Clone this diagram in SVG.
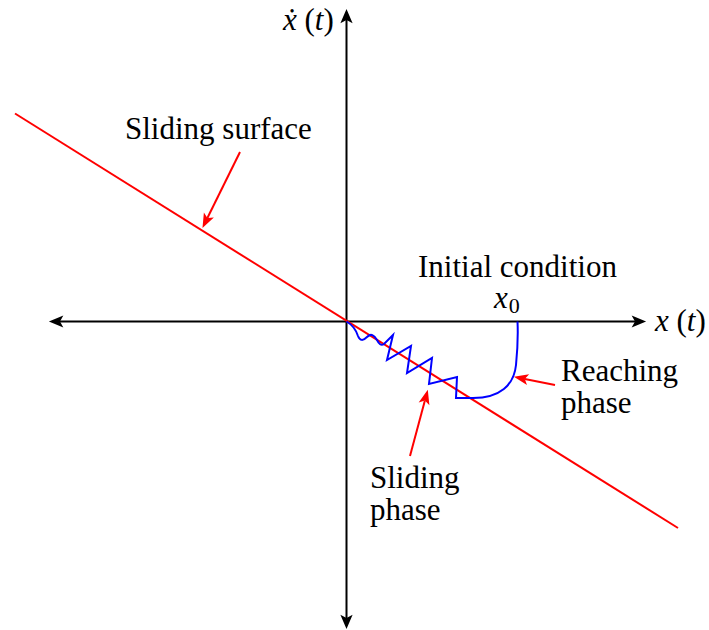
<svg xmlns="http://www.w3.org/2000/svg" width="709" height="630" viewBox="0 0 709 630">
<style>
.t{font-family:"Liberation Serif","Times New Roman",serif;font-size:31px;fill:#000}
.i{font-style:italic}
.ax{stroke:#000;stroke-width:2;fill:none}
.red{stroke:#f00;stroke-width:2;fill:none}
.blue{stroke:#00f;stroke-width:2;fill:none;stroke-linejoin:miter}
</style>
<defs>
<marker id="ak" markerUnits="userSpaceOnUse" markerWidth="20" markerHeight="20" viewBox="-5 -8 18 16" refX="0" refY="0" orient="auto-start-reverse">
<path d="M0,0 L-3,-5.5 L10,0 L-3,5.5 Z" fill="#000"/>
</marker>
<marker id="ar" markerUnits="userSpaceOnUse" markerWidth="20" markerHeight="20" viewBox="-5 -8 18 16" refX="0" refY="0" orient="auto">
<path d="M0,0 L-3,-5 L10,0 L-3,5 Z" fill="#f00"/>
</marker>
</defs>
<g id="axes">
<line class="ax" x1="346.5" y1="618" x2="346.5" y2="20" marker-start="url(#ak)" marker-end="url(#ak)"/>
<line class="ax" x1="60" y1="321.5" x2="635" y2="321.5" marker-start="url(#ak)" marker-end="url(#ak)"/>
</g>
<g id="sliding-surface">
<line class="red" x1="15" y1="113.5" x2="678" y2="528"/>
</g>
<g id="trajectory">
<path class="blue" d="M346.5,321.5 C351,324 356,330 358,336 C360,341 363,341 367,337 C371,333 374,335 377,340 C379,344 381,346 384,344 L393,335 L387,360 L411,346 L407,373 L432,358 L429,384 L457,377 L456,398 L473,398 C500,398 514,385 516,365 C518,345 518,332 517.5,321.5"/>
</g>
<g id="connectors">
<line class="red" x1="240" y1="152" x2="207.4" y2="218" marker-end="url(#ar)"/>
<line class="red" x1="555" y1="385" x2="524.8" y2="379" marker-end="url(#ar)"/>
<line class="red" x1="410" y1="456" x2="424.9" y2="400.6" marker-end="url(#ar)"/>
</g>
<g id="labels">
<text class="t" x="418" y="277">Initial condition</text>
<text class="t" x="125" y="139">Sliding surface</text>
<text class="t" x="494" y="308"><tspan class="i">x</tspan><tspan font-size="22" dx="1" dy="5">0</tspan></text>
<text class="t" x="561" y="381">Reaching</text>
<text class="t" x="561" y="413">phase</text>
<text class="t" x="370" y="488">Sliding</text>
<text class="t" x="370" y="520">phase</text>
<text class="t" x="655" y="331"><tspan class="i">x</tspan> (<tspan class="i">t</tspan>)</text>
<text class="t" x="283" y="30"><tspan class="i">ẋ</tspan> (<tspan class="i">t</tspan>)</text>
</g>
</svg>
